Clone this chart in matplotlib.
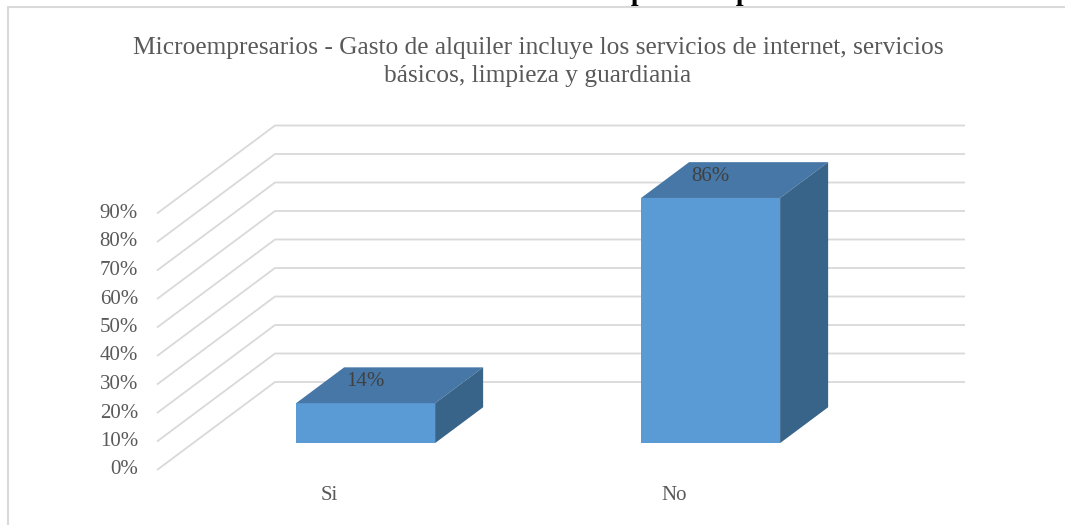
import matplotlib.pyplot as plt
from matplotlib.patches import Polygon, Rectangle

plt.rcParams['font.family'] = ['Liberation Serif', 'DejaVu Serif']

categories = ['Si', 'No']
values = [14, 86]
value_labels = ['14%', '86%']
ticks = [0, 10, 20, 30, 40, 50, 60, 70, 80, 90]
tick_labels = ['0%', '10%', '20%', '30%', '40%', '50%', '60%', '70%', '80%', '90%']

title = ('Microempresarios - Gasto de alquiler incluye los servicios de internet, servicios\n'
         'básicos, limpieza y guardiania')
caption = 'Gráfico 3. Encuestas - Gastos adicionales para la operación de las oficinas'

W, H = 1065, 525
fig = plt.figure(figsize=(W / 100, H / 100), dpi=100)

# outer chart border (runs off the right and bottom edge)
fig.patches.append(Rectangle((8 / W, -0.1), 1.2, (H - 7) / H + 0.1,
                             transform=fig.transFigure, fill=False,
                             edgecolor='#d9d9d9', lw=1.5))

# top caption, mostly cut off by the page
fig.text(575 / W, 1.0, caption, ha='center', va='baseline',
         fontsize=20, fontweight='bold', color='black')

fig.text(538 / W, 1 - 62 / H, title, ha='center', va='center',
         fontsize=18.3, color='#595959', linespacing=1.4)

# axes in data units: x = categories, y = percent
px_x, px_y = 345.0, 2.85          # pixels per category / per percent
x0, y0, x1, y1 = 157, 470, 965, 125
ax = fig.add_axes([x0 / W, (H - y0) / H, (x1 - x0) / W, (y0 - y1) / H])
ax.set_xlim(0, (x1 - x0) / px_x)
ax.set_ylim(0, (y0 - y1) / px_y)
ax.axis('off')

dx = 118 / px_x      # full depth offset
dy = 88 / px_y
xmax = (x1 - x0) / px_x

grid_c = '#d9d9d9'
for t, lab in zip(ticks, tick_labels):
    ax.plot([0, dx, xmax], [t, t + dy, t + dy], color=grid_c, lw=1.3,
            clip_on=False, solid_capstyle='butt', zorder=1)
    ax.text(-19 / px_x, t, lab, ha='right', va='center', fontsize=15,
            color='#595959')

bw = 139 / px_x
z0, z1 = 0.306, 0.713
front_c, top_c, side_c = '#5b9bd5', '#4677a6', '#386489'
for i, (cat, v, vl) in enumerate(zip(categories, values, value_labels)):
    cx = i + 0.5 + z0 * dx
    by = z0 * dy
    l, r = cx - bw / 2, cx + bw / 2
    ddx, ddy = (z1 - z0) * dx, (z1 - z0) * dy
    ax.add_patch(Polygon([(l, by), (r, by), (r, by + v), (l, by + v)],
                         closed=True, fc=front_c, ec='none', zorder=3))
    ax.add_patch(Polygon([(l, by + v), (r, by + v), (r + ddx, by + v + ddy),
                          (l + ddx, by + v + ddy)], closed=True, fc=top_c,
                         ec='none', zorder=3))
    ax.add_patch(Polygon([(r, by), (r + ddx, by + ddy), (r + ddx, by + v + ddy),
                          (r, by + v)], closed=True, fc=side_c, ec='none',
                         zorder=3))
    ax.text(cx, v + 17, vl, ha='center', va='center', fontsize=15,
            color='#404040', zorder=4)
    ax.text(i + 0.5, -8.8, cat, ha='center', va='center', fontsize=15,
            color='#595959')

fig.savefig('out.png', dpi=100)
